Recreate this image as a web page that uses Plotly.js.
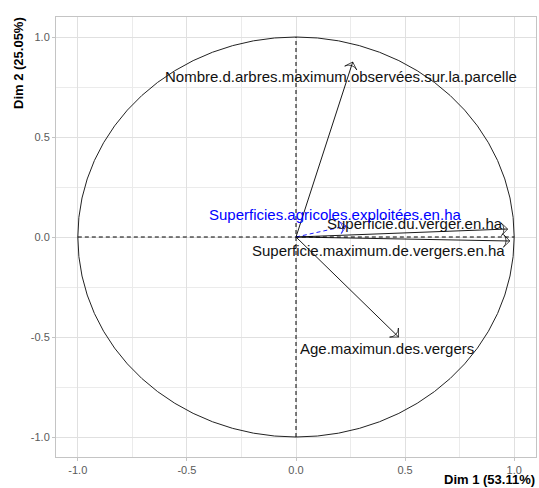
<!DOCTYPE html>
<html>
<head>
<meta charset="utf-8">
<script src="https://cdn.plot.ly/plotly-3.0.1.min.js"></script>
<style>html,body{margin:0;padding:0;background:#fff;} #chart{width:539px;height:488px;}</style>
</head>
<body>
<div id="chart"></div>
<script>
// Active variables (coordinates on Dim 1 / Dim 2)
const varNames = [
  'Nombre.d.arbres.maximum.observées.sur.la.parcelle',
  'Superficie.du.verger.en.ha',
  'Superficie.maximum.de.vergers.en.ha',
  'Age.maximun.des.vergers'
];
const varDim1 = [0.26, 0.97, 0.98, 0.47];
const varDim2 = [0.875, 0.04, -0.02, -0.50];

// Supplementary variable
const suppNames = ['Superficies.agricoles.exploitées.en.ha'];
const suppDim1 = [0.23];
const suppDim2 = [0.055];

const tickVals = [-1.0, -0.5, 0.0, 0.5, 1.0];
const tickText = ['-1.0', '-0.5', '0.0', '0.5', '1.0'];
const xTitle = 'Dim 1 (53.11%)';
const yTitle = 'Dim 2 (25.05%)';

// label placement (repelled positions, layout only)
const varLabelPos = [[0.206, 0.805], [0.544, 0.07], [0.378, -0.065], [0.415, -0.555]];
const suppLabelPos = [[0.177, 0.115]];

const FONT = 'Liberation Sans, Arial, sans-serif';
const traces = [];
function arrowTrace(x, y, color, dash) {
  return {
    type: 'scatter', mode: 'lines+markers',
    x: [0, x], y: [0, y],
    line: {color: color, width: 0.9, dash: dash},
    marker: {symbol: ['circle', 'arrow-wide-open'], size: [0, 9], angleref: 'previous',
             color: color, line: {color: color, width: 1}},
    hoverinfo: 'skip', showlegend: false, cliponaxis: false
  };
}
varNames.forEach((n, i) => traces.push(arrowTrace(varDim1[i], varDim2[i], '#000000', 'solid')));
suppNames.forEach((n, i) => traces.push(arrowTrace(suppDim1[i], suppDim2[i], '#0000FF', '4px,3px')));

const annotations = [];
varNames.forEach((n, i) => annotations.push({
  x: varLabelPos[i][0], y: varLabelPos[i][1], xref: 'x', yref: 'y', text: n, showarrow: false,
  xanchor: 'center', yanchor: 'middle', font: {family: FONT, size: 15, color: '#111'}
}));
suppNames.forEach((n, i) => annotations.push({
  x: suppLabelPos[i][0], y: suppLabelPos[i][1], xref: 'x', yref: 'y', text: n, showarrow: false,
  xanchor: 'center', yanchor: 'middle', font: {family: FONT, size: 15, color: '#0000FF'}
}));
annotations.push({
  xref: 'paper', yref: 'paper', x: 1, y: 0, xanchor: 'right', yanchor: 'bottom', yshift: -31, xshift: 0,
  borderpad: 0,
  text: '<b>' + xTitle + '</b>', showarrow: false,
  font: {family: FONT, size: 13, color: '#000'}
});
annotations.push({
  xref: 'paper', yref: 'paper', x: 0, y: 1, xanchor: 'center', yanchor: 'top', xshift: -38, yshift: 2,
  text: '<b>' + yTitle + '</b>', showarrow: false, textangle: -90,
  font: {family: FONT, size: 13, color: '#000'}
});

const axisCommon = {
  tickvals: tickVals, ticktext: tickText, zeroline: false,
  showgrid: true, gridcolor: '#e0e0e0', gridwidth: 1,
  minor: {dtick: 0.25, tick0: 0, showgrid: true, gridcolor: '#ebebeb', gridwidth: 1, ticks: ''},
  showline: true, mirror: true, linecolor: '#c4c4c4', linewidth: 1,
  ticks: 'outside', ticklen: 3, tickcolor: '#c4c4c4',
  tickfont: {family: FONT, size: 11, color: '#5a5a5a'}
};

const layout = {
  width: 539, height: 488,
  margin: {l: 56, r: 3, t: 17, b: 31},
  paper_bgcolor: '#fff', plot_bgcolor: '#fff',
  xaxis: Object.assign({}, axisCommon, {range: [-1.1, 1.1]}),
  yaxis: Object.assign({}, axisCommon, {range: [-1.1, 1.1]}),
  showlegend: false,
  shapes: [
    {type: 'circle', xref: 'x', yref: 'y', x0: -1, x1: 1, y0: -1, y1: 1, line: {color: '#222', width: 1}},
    {type: 'line', xref: 'x', yref: 'y', x0: -1, x1: 1, y0: 0, y1: 0, line: {color: '#000', width: 1, dash: '4px,3px'}},
    {type: 'line', xref: 'x', yref: 'y', x0: 0, x1: 0, y0: -1, y1: 1, line: {color: '#000', width: 1, dash: '4px,3px'}}
  ],
  annotations: annotations
};

Plotly.newPlot('chart', traces, layout, {displayModeBar: false, staticPlot: true});
</script>
</body>
</html>
